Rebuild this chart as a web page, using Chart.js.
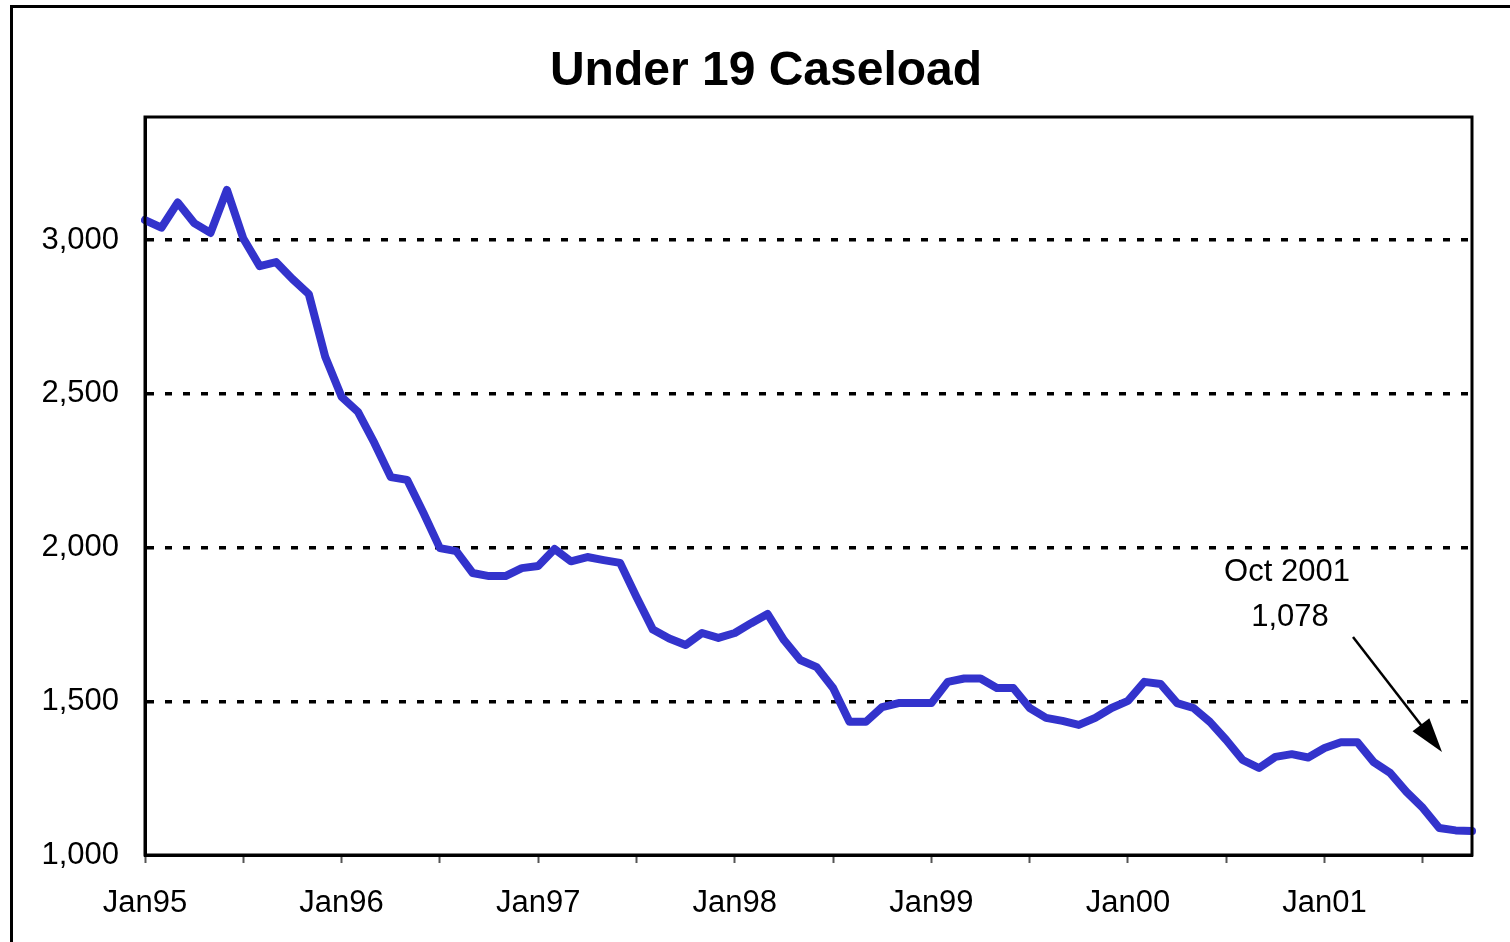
<!DOCTYPE html>
<html>
<head>
<meta charset="utf-8">
<title>Under 19 Caseload</title>
<script src="https://cdn.jsdelivr.net/npm/chart.js@4/dist/chart.umd.min.js"></script>
<style>
  html, body { margin: 0; padding: 0; background: #fff; }
  #wrap { width: 1510px; height: 942px; position: relative; }
</style>
</head>
<body>
<div id="wrap"><canvas id="caseChart" width="1510" height="942"></canvas></div>
<script>
// Monthly Under-19 caseload, Jan 1995 through Oct 2001.
const MONTHS = ["Jan", "Feb", "Mar", "Apr", "May", "Jun", "Jul", "Aug", "Sep", "Oct", "Nov", "Dec"];
const YEARS  = ["95", "96", "97", "98", "99", "00", "01"];

const CASELOAD = [
  3065, 3040, 3122, 3055, 3023, 3163, 3005, 2915, 2928, 2873, 2824, 2620, // 1995
  2490, 2441, 2340, 2229, 2220, 2112, 1998, 1988, 1917, 1907, 1907, 1933, // 1996
  1940, 1995, 1955, 1969, 1959, 1950, 1839, 1733, 1704, 1683, 1722, 1706, // 1997
  1722, 1754, 1784, 1699, 1634, 1611, 1543, 1433, 1433, 1481, 1494, 1494, // 1998
  1494, 1563, 1574, 1574, 1543, 1543, 1478, 1446, 1436, 1423, 1446, 1478, // 1999
  1501, 1563, 1556, 1494, 1478, 1433, 1374, 1309, 1283, 1319, 1328, 1317, // 2000
  1348, 1367, 1367, 1302, 1267, 1205, 1153, 1088, 1080, 1078,             // 2001
];

const Y_TICKS = [1000, 1500, 2000, 2500, 3000];
const Y_MIN = 1000, Y_MAX = 3400;

const ANNOT_LINES = ["Oct 2001", "1,078"];

// Category labels Jan95 .. Oct01
const LABELS = [];
for (const y of YEARS) for (const m of MONTHS) {
  if (LABELS.length < CASELOAD.length) LABELS.push(m + y);
}

const FONT = "'Liberation Sans', Arial, Helvetica, sans-serif";

// outer frame, plot box, title and the Oct 2001 call-out
const decorations = {
  id: "decorations",
  beforeDraw(chart) {
    const c = chart.ctx;
    c.save();
    c.fillStyle = "#fff";
    c.fillRect(0, 0, chart.width, chart.height);
    c.strokeStyle = "#000";
    c.lineWidth = 3;
    c.strokeRect(11.5, 6.5, chart.width + 20, chart.height + 20);
    c.restore();
  },
  afterDraw(chart) {
    const c = chart.ctx, a = chart.chartArea;
    c.save();
    c.strokeStyle = "#000";
    c.lineWidth = 3;
    c.strokeRect(a.left, a.top, a.right - a.left, a.bottom - a.top);

    c.fillStyle = "#000";
    c.textAlign = "center";
    c.textBaseline = "middle";
    c.font = "bold 48px " + FONT;
    c.fillText("Under 19 Caseload", 766, 72);

    c.font = "31px " + FONT;
    c.fillText(ANNOT_LINES[0], 1287, 572);
    c.fillText(ANNOT_LINES[1], 1290, 617);

    // arrow
    const x1 = 1353, y1 = 637, x2 = 1442, y2 = 752;
    const ang = Math.atan2(y2 - y1, x2 - x1);
    const len = 36, half = 0.3;
    c.lineWidth = 2.5;
    c.beginPath();
    c.moveTo(x1, y1);
    c.lineTo(x2 - Math.cos(ang) * len * 0.8, y2 - Math.sin(ang) * len * 0.8);
    c.stroke();
    c.beginPath();
    c.moveTo(x2, y2);
    c.lineTo(x2 - len * Math.cos(ang - half), y2 - len * Math.sin(ang - half));
    c.lineTo(x2 - len * Math.cos(ang + half), y2 - len * Math.sin(ang + half));
    c.closePath();
    c.fill();
    c.restore();
  },
};

new Chart(document.getElementById("caseChart"), {
  type: "line",
  data: {
    labels: LABELS,
    datasets: [{
      data: CASELOAD,
      borderColor: "#3333CC",
      borderWidth: 8,
      tension: 0,
      pointRadius: 0,
      borderJoinStyle: "round",
      borderCapStyle: "round",
    }],
  },
  options: {
    responsive: false,
    animation: false,
    events: [],
    layout: { padding: { left: 0, top: 117, right: 38, bottom: 0 } },
    plugins: { legend: { display: false }, title: { display: false }, tooltip: { enabled: false } },
    scales: {
      x: {
        type: "category",
        offset: false,
        afterFit: s => { s.height = 87; },
        grid: {
          drawOnChartArea: false,
          drawTicks: true,
          tickLength: 8,
          tickWidth: 2,
          tickColor: ctx => (ctx.index % 6 === 0 ? "#555" : "transparent"),
        },
        border: { display: true, color: "#000", width: 3 },
        ticks: {
          autoSkip: false,
          maxRotation: 0,
          minRotation: 0,
          padding: 22,
          color: "#000",
          font: { family: FONT, size: 31 },
          callback: function (v, i) { return i % 12 === 0 ? this.getLabelForValue(v) : ""; },
        },
      },
      y: {
        min: Y_MIN,
        max: Y_MAX,
        afterFit: s => { s.width = 145; },
        afterBuildTicks: s => { s.ticks = Y_TICKS.map(v => ({ value: v })); },
        grid: {
          drawTicks: false,
          lineWidth: 3.5,
          color: ctx => (ctx.tick && ctx.tick.value === Y_MIN ? "transparent" : "#000"),
        },
        border: { display: true, color: "#000", width: 3, dash: [7, 11] },
        ticks: {
          padding: 26,
          color: "#000",
          font: { family: FONT, size: 31 },
          callback: v => v.toLocaleString("en-US"),
        },
      },
    },
  },
  plugins: [decorations],
});
</script>
</body>
</html>
